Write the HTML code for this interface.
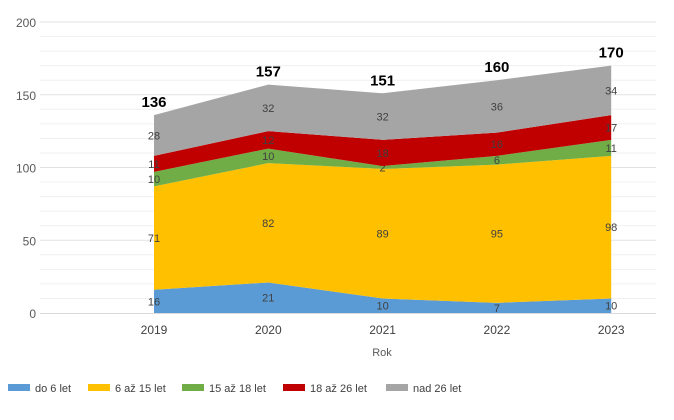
<!DOCTYPE html>
<html><head><meta charset="utf-8"><style>
body{margin:0;background:#fff;font-family:"Liberation Sans",sans-serif;}
svg{display:block}
</style></head><body>
<svg id="c" width="674" height="420"></svg>
<script>
const years=["2019","2020","2021","2022","2023"];
const do6=[16,21,10,7,10];
const s6_15=[71,82,89,95,98];
const s15_18=[10,10,2,6,11];
const s18_26=[11,12,18,16,17];
const nad26=[28,32,32,36,34];
const totals=[136,157,151,160,170];
const yTicks=[0,50,100,150,200];
const seriesNames=["do 6 let","6 až 15 let","15 až 18 let","18 až 26 let","nad 26 let"];
const colors=["#5b9bd5","#ffc000","#70ad47","#c00000","#a5a5a5"];

const NS="http://www.w3.org/2000/svg";
const svg=document.getElementById('c');
const y0=313, pxPerUnit=291/200;
const y=v=>y0-v*pxPerUnit;
const x=i=>154+i*114.3;
function mk(t,a,p){const e=document.createElementNS(NS,t);for(const k in a)e.setAttribute(k,a[k]);(p||svg).appendChild(e);return e;}
// gridlines
for(let v=10;v<=200;v+=10){
 const g=mk('line',{x1:40,x2:656,y1:y(v),y2:y(v),stroke:v%50==0?'#e2e2e2':'#f0f0f0','stroke-width':1});
 
 
}
yTicks.forEach(v=>{
 const t=mk('text',{x:36,y:y(v)+5,'text-anchor':'end','font-size':12,fill:'#595959'});t.textContent=v;
 
 
});
const series=[do6,s6_15,s15_18,s18_26,nad26];
let base=years.map(()=>0);
series.forEach((s,si)=>{
 const top=base.map((b,i)=>b+s[i]);
 let d='M'+years.map((_,i)=>x(i)+','+y(top[i])).join(' L');
 for(let i=years.length-1;i>=0;i--)d+=' L'+x(i)+','+y(base[i]);
 const p=mk('path',{d:d+'Z',fill:colors[si]});
 
 
 s.forEach((v,i)=>{
  const t=mk('text',{x:x(i),y:y(base[i]+v/2)+4,'text-anchor':'middle','font-size':11,fill:'#404040'});t.textContent=v;
  
  
 });
 base=top;
});
const ax=mk('line',{x1:40,x2:656,y1:y0+0.5,y2:y0+0.5,stroke:'#d9d9d9'});


totals.forEach((v,i)=>{
 const t=mk('text',{x:x(i),y:y(v)-8,'text-anchor':'middle','font-size':15,'font-weight':'bold',fill:'#000'});t.textContent=v;
 
 
});
years.forEach((v,i)=>{
 const t=mk('text',{x:x(i),y:334,'text-anchor':'middle','font-size':12,fill:'#404040'});t.textContent=v;
 
 
});
const xt=mk('text',{x:382,y:356,'text-anchor':'middle','font-size':11,fill:'#595959'});xt.textContent='Rok';


const lx=[8,88,182,283,386];
seriesNames.forEach((n,i)=>{
 const g=mk('g',{});
 
 
 mk('rect',{x:lx[i],y:384,width:22,height:7,fill:colors[i]},g);
 const t=mk('text',{x:lx[i]+27,y:392,'font-size':11,fill:'#404040'},g);t.textContent=n;
});
</script>
</body></html>
